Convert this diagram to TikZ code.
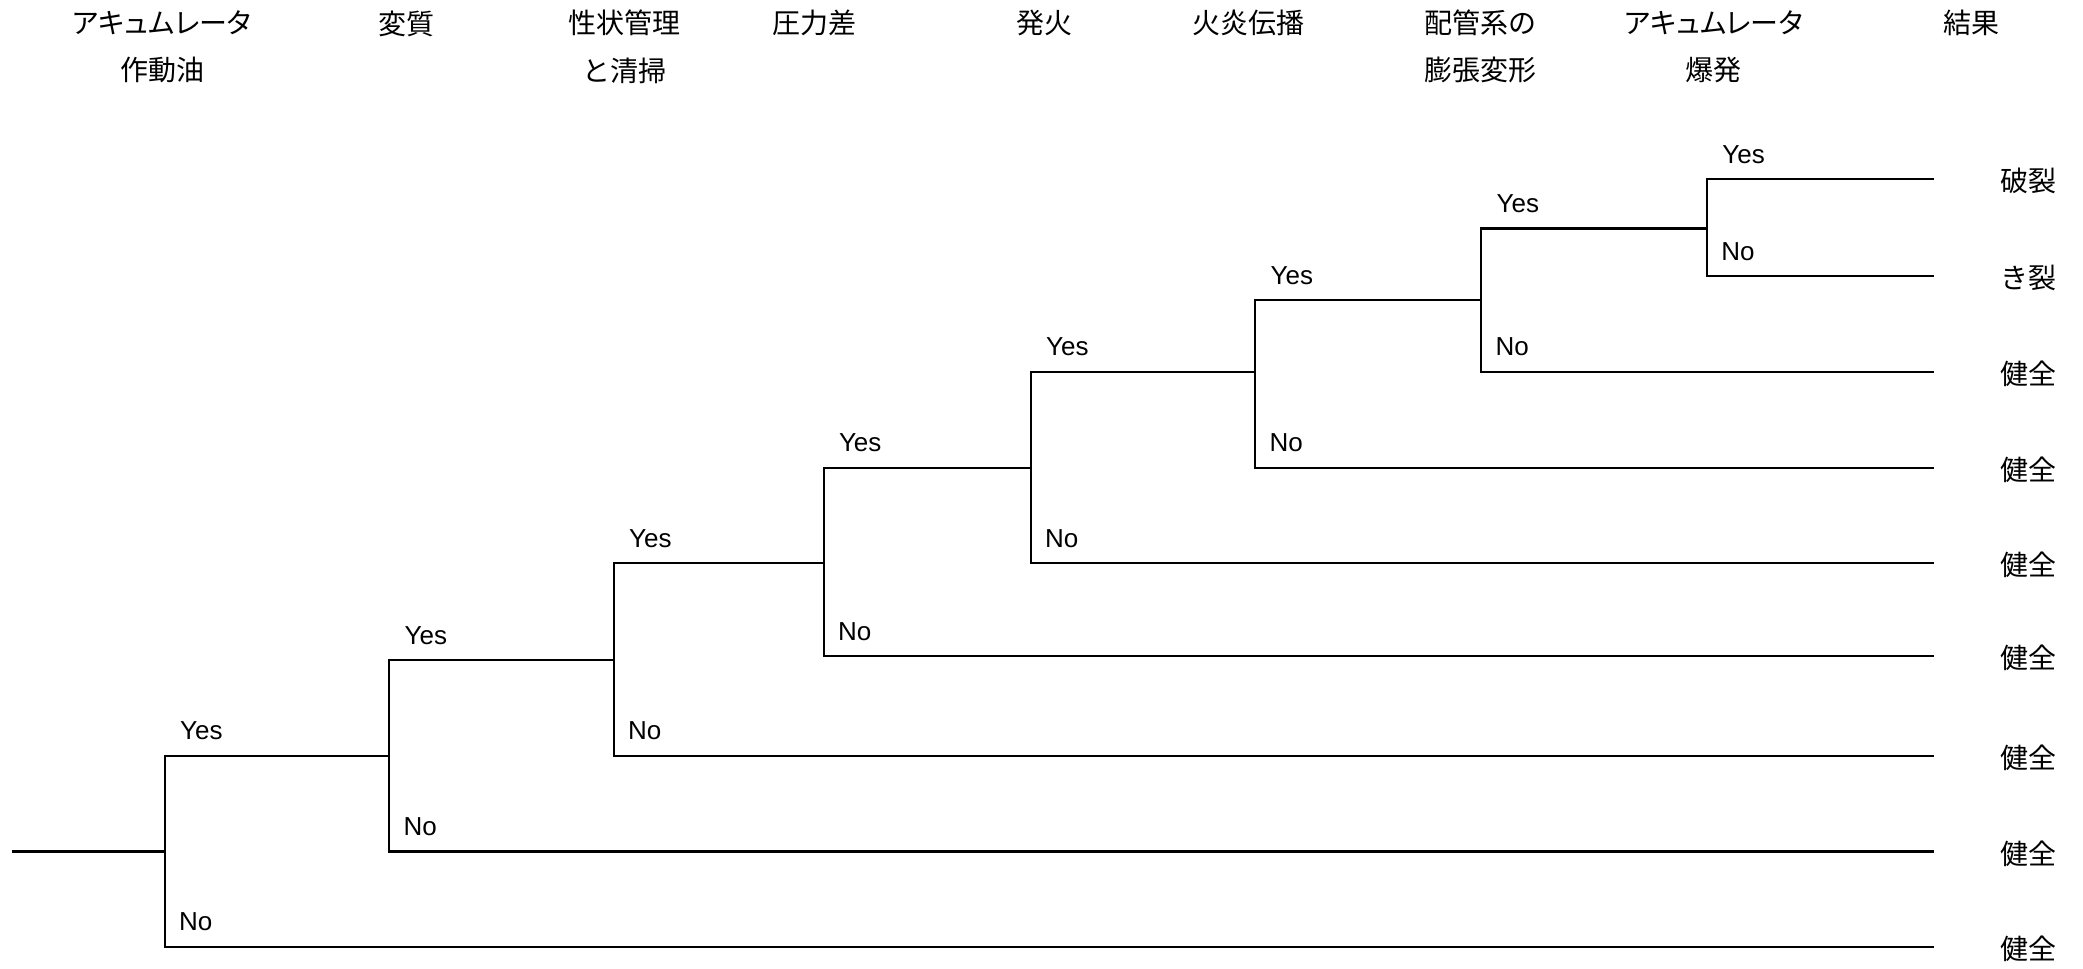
\documentclass[tikz,border=0pt]{standalone}
\usepackage{fontspec}
\setmainfont{Liberation Sans}
\newfontfamily\jp{Noto Sans CJK JP}
\newfontfamily\jpp[RawFeature=+palt]{Noto Sans CJK JP}
\usetikzlibrary{calc}
\begin{document}
\begin{tikzpicture}[x=0.5pt,y=-0.5pt,
  br/.style={line width=1.1pt, line cap=rect},
  yn/.style={font=\fontsize{13}{15}\selectfont, anchor=west, inner sep=0pt},
  hd/.style={font=\jp\fontsize{14}{16}\selectfont, inner sep=0pt},
  hdk/.style={font=\jpp\fontsize{14}{16}\selectfont, inner sep=0pt},
  res/.style={font=\jp\fontsize{14}{16}\selectfont, inner sep=0pt}]
\useasboundingbox (0,0) rectangle (2083,969);
% header
\node[hdk] (h1a) at (162,22.6) {アキュムレータ};
\node[hd] (h1b) at (162,70.4) {作動油};
\node[hd] (h2)  at (406.5,24) {変質};
\node[hd] (h3a) at (624.4,22.6) {性状管理};
\node[hd] (h3b) at (624.4,70.4) {と清掃};
\node[hd] (h4)  at (814.3,22.6) {圧力差};
\node[hd] (h5)  at (1044,22.6) {発火};
\node[hd] (h6)  at (1248.7,22.6) {火炎伝播};
\node[hd] (h7a) at (1480,22.6) {配管系の};
\node[hd] (h7b) at (1480,70.4) {膨張変形};
\node[hdk] (h8a) at (1713.6,22.6) {アキュムレータ};
\node[hd] (h8b) at (1713.6,70.4) {爆発};
\node[hd] (h9)  at (1971.3,22.6) {結果};
% splits: index / x / incoming y / yes y / no y
\foreach \i/\x/\yc/\yy/\yn in {1/164.7/851.5/755.9/947.1, 2/389.2/755.9/660.2/851.5,
  3/613.7/660.2/563.2/755.9, 4/823.6/563.2/467.6/656.2, 5/1030.8/467.6/372/563.2,
  6/1255.3/372/300.2/467.6, 7/1481.2/300.2/228.5/372, 8/1707.0/228.5/179.3/276.3}{
  \coordinate (c\i) at (\x,\yc);
  \coordinate (y\i) at (\x,\yy);
  \coordinate (n\i) at (\x,\yn);
  \draw[br] (y\i) -- (n\i);
  \node[yn] (ly\i) at ($(y\i)+(15,-25)$) {Yes};
  \node[yn] (ln\i) at ($(n\i)+(14,-25)$) {No};
}
% leaf ends and results
\foreach \j/\yy/\t in {1/179.3/破裂, 2/276.3/き裂, 3/372/健全, 4/467.6/健全, 5/563.2/健全,
  6/656.2/健全, 7/755.9/健全, 8/851.5/健全, 9/947.1/健全}{
  \coordinate (e\j) at (1932.8,\yy);
  \node[res] (r\j) at (2028.5,\yy+2) {\t};
}
\coordinate (root) at (13,851.5);
\draw[br] (root) -- (c1);
\draw[br] (y1) -- (c2);
\draw[br] (y2) -- (c3);
\draw[br] (y3) -- (c4);
\draw[br] (y4) -- (c5);
\draw[br] (y5) -- (c6);
\draw[br] (y6) -- (c7);
\draw[br] (y7) -- (c8);
\draw[br] (y8) -- (e1);
\draw[br] (n8) -- (e2);
\draw[br] (n7) -- (e3);
\draw[br] (n6) -- (e4);
\draw[br] (n5) -- (e5);
\draw[br] (n4) -- (e6);
\draw[br] (n3) -- (e7);
\draw[br] (n2) -- (e8);
\draw[br] (n1) -- (e9);
\end{tikzpicture}
\end{document}
